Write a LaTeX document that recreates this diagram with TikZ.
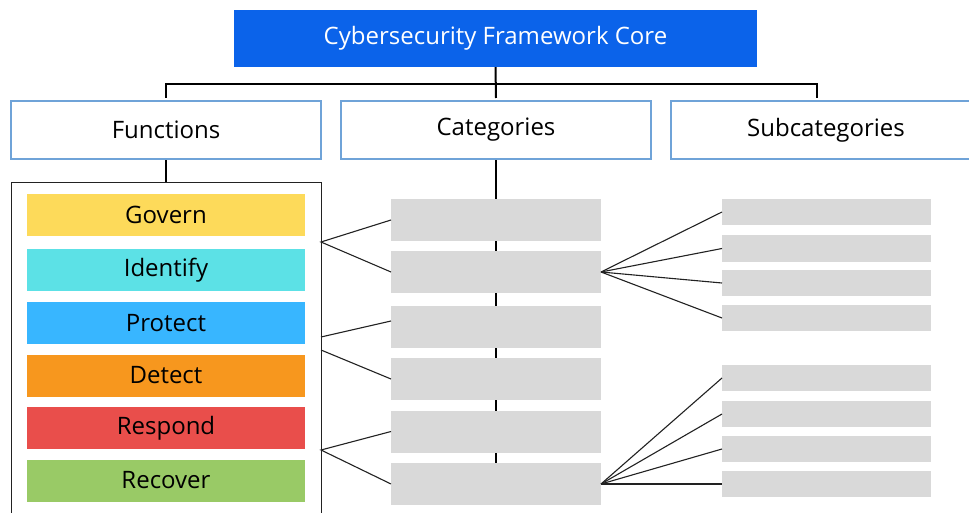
\documentclass[tikz,border=0pt]{standalone}
\usepackage{fontspec}
\setmainfont{Open Sans}
\definecolor{titleblue}{HTML}{0B63EA}
\definecolor{hdrborder}{HTML}{6FA3D8}
\definecolor{cgov}{HTML}{FDDA5A}
\definecolor{cid}{HTML}{5CE1E6}
\definecolor{cpro}{HTML}{38B6FF}
\definecolor{cdet}{HTML}{F7971E}
\definecolor{cres}{HTML}{E94E4B}
\definecolor{crec}{HTML}{99CA66}
\definecolor{boxgray}{HTML}{D9D9D9}
\definecolor{linegray}{HTML}{222222}
\pgfdeclarelayer{bg}
\pgfsetlayers{bg,main}
\tikzset{
  basebox/.style={rectangle, inner sep=0pt, outer sep=0pt, font=\fontsize{24}{29}\selectfont},
  titlebox/.style={basebox, fill=titleblue, text=white, minimum width=523pt, minimum height=57pt},
  hdrbox/.style={basebox, draw=hdrborder, line width=1.2pt, fill=white, text=black, minimum width=310pt, minimum height=58pt},
  funbar/.style={basebox, minimum width=278pt, minimum height=42pt, text=black},
  catbox/.style={basebox, fill=boxgray, minimum width=210pt, minimum height=42pt},
  subbox/.style={basebox, fill=boxgray, minimum width=209pt, minimum height=26pt},
  outerbox/.style={basebox, draw=linegray, line width=1pt, minimum width=310pt, minimum height=347pt},
  conn/.style={draw=black, line width=2pt},
  fan/.style={draw=linegray, line width=1.1pt}
}
\begin{document}
\begin{tikzpicture}[x=1pt, y=-1pt]
\clip (0,0) rectangle (969,513);
% title and headers
\node[titlebox] (title) at (495.5,38.5) {Cybersecurity Framework Core};
\node[hdrbox] (fun) at (166,130) {Functions};
\node[hdrbox] (cat) at (496,130) {Categories};
\node[hdrbox] (sub) at (826,130) {Subcategories};
% functions panel
\node[outerbox] (funbox) at (166,356.5) {};
\node[funbar, fill=cgov] (gov) at (166,215) {Govern};
\node[funbar, fill=cid]  (ide) at (166,270) {Identify};
\node[funbar, fill=cpro] (pro) at (166,323) {Protect};
\node[funbar, fill=cdet] (det) at (166,375.5) {Detect};
\node[funbar, fill=cres] (res) at (166,428) {Respond};
\node[funbar, fill=crec] (rec) at (166,480.5) {Recover};
% categories
\node[catbox] (c1) at (496,220) {};
\node[catbox] (c2) at (496,272) {};
\node[catbox] (c3) at (496,327) {};
\node[catbox] (c4) at (496,379) {};
\node[catbox] (c5) at (496,431.5) {};
\node[catbox] (c6) at (496,484) {};
% subcategories
\node[subbox] (s1) at (826.5,212) {};
\node[subbox] (s2) at (826.5,248.5) {};
\node[subbox] (s3) at (826.5,283) {};
\node[subbox] (s4) at (826.5,318) {};
\node[subbox] (s5) at (826.5,378) {};
\node[subbox] (s6) at (826.5,414) {};
\node[subbox] (s7) at (826.5,449) {};
\node[subbox] (s8) at (826.5,484) {};
% coordinates
\coordinate (hbar) at (0,84);
\coordinate (hright) at (817,84);
\coordinate (j1) at (321,242);
\coordinate (j2) at (321,337);
\coordinate (j3) at (321,350);
\coordinate (j4) at (321,450);
\begin{pgfonlayer}{bg}
\fill[white] (0,0) rectangle (969,513);
\draw[conn] (title.south) -- ([yshift=3pt]cat.north);
\draw[conn] ([yshift=3pt]fun.north) -- (fun.north |- hbar) -- (hright) -- ([yshift=3pt]hright |- sub.north);
\draw[conn] (fun.south) -- (funbox.north);
\draw[conn] (cat.south) -- (cat.south |- c6.north);
\end{pgfonlayer}
% function to category connectors
\draw[fan] (c1.west) -- (j1) -- (c2.west);
\draw[fan] ([yshift=6pt]c3.west) -- (j2);
\draw[fan] (j3) -- (c4.west);
\draw[fan] (c5.west) -- (j4) -- (c6.west);
% fans to subcategories
\foreach \s in {s1,s2,s3,s4} \draw[fan] (c2.east) -- (\s.west);
\foreach \s in {s5,s6,s7,s8} \draw[fan] (c6.east) -- (\s.west);
\end{tikzpicture}
\end{document}
